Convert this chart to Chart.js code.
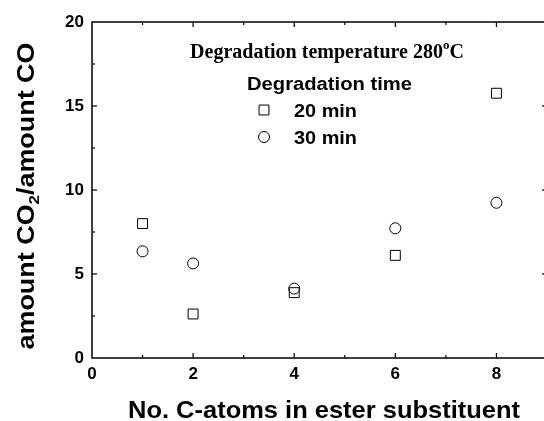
<!DOCTYPE html>
<html>
<head>
<meta charset="utf-8">
<script src="https://cdn.jsdelivr.net/npm/chart.js@4/dist/chart.umd.min.js"></script>
<style>
  html, body { margin: 0; padding: 0; background: #fff; overflow: hidden; }
  #wrap { width: 555px; height: 421px; }
</style>
</head>
<body>
<div id="wrap"><canvas id="chart" width="555" height="421"></canvas></div>
<script>
// data
const cAtoms = [1, 2, 4, 6, 8];
const ratio20min = [8.0, 2.62, 3.89, 6.11, 15.76];
const ratio30min = [6.35, 5.63, 4.13, 7.72, 9.24];
const seriesNames = ['20 min', '30 min'];
const xRange = [0, 9];
const yRange = [0, 20];

const toPoints = (xs, ys) => xs.map((v, i) => ({ x: v, y: ys[i] }));

function line(ctx, x1, y1, x2, y2) {
  ctx.beginPath();
  ctx.moveTo(x1, y1);
  ctx.lineTo(x2, y2);
  ctx.stroke();
}

// draws text pieces in a row, each piece {t, font, dy}
function drawPieces(ctx, pieces, x, y) {
  let cx = x;
  pieces.forEach(p => {
    ctx.font = p.font;
    ctx.fillText(p.t, cx, y + (p.dy || 0));
    cx += ctx.measureText(p.t).width;
  });
}
function piecesWidth(ctx, pieces) {
  return pieces.reduce((w, p) => { ctx.font = p.font; return w + ctx.measureText(p.t).width; }, 0);
}
// the figure's sans text is a wide Helvetica, so stretch Arial to the same width
function fillStretched(ctx, text, font, x, y, width) {
  ctx.font = font;
  const w = ctx.measureText(text).width;
  ctx.save();
  ctx.translate(x, y);
  ctx.scale(width / w, 1);
  ctx.fillText(text, 0, 0);
  ctx.restore();
}

// frame, inward ticks, axis titles and the in-plot legend
const decorations = {
  id: 'decorations',
  afterDraw(chart) {
    const { ctx, chartArea: a, scales: { x, y } } = chart;
    ctx.save();
    ctx.strokeStyle = '#000';
    ctx.fillStyle = '#000';
    ctx.lineWidth = 1.5;
    ctx.strokeRect(a.left, a.top, a.right - a.left, a.bottom - a.top);

    ctx.lineWidth = 1.2;
    for (let v = xRange[0] + 1; v < xRange[1]; v += 1) {
      const px = x.getPixelForValue(v);
      const len = v % 2 === 0 ? 5 : 3;
      line(ctx, px, a.bottom, px, a.bottom - len);
      line(ctx, px, a.top, px, a.top + len);
    }
    for (let v = yRange[0] + 2.5; v < yRange[1]; v += 2.5) {
      const py = y.getPixelForValue(v);
      const len = v % 5 === 0 ? 5 : 3;
      line(ctx, a.left, py, a.left + len, py);
      line(ctx, a.right, py, a.right - len, py);
    }

    // x axis title
    const big = 'bold 24px Arial, "Liberation Sans", sans-serif';
    ctx.textBaseline = 'alphabetic';
    ctx.textAlign = 'left';
    fillStretched(ctx, 'No. C-atoms in ester substituent', big, 128, 418, 392);

    // y axis title with subscript
    const sub = 'bold 15px Arial, "Liberation Sans", sans-serif';
    const yPieces = [
      { t: 'amount CO', font: big },
      { t: '2', font: sub, dy: 5 },
      { t: '/amount CO', font: big }
    ];
    const yw = piecesWidth(ctx, yPieces);
    ctx.save();
    ctx.translate(34, 196);
    ctx.rotate(-Math.PI / 2);
    ctx.scale(307 / yw, 1);
    drawPieces(ctx, yPieces, -yw / 2, 0);
    ctx.restore();

    // legend block
    const serif = 'bold 20px "Liberation Serif", "Times New Roman", serif';
    const serifSup = 'bold 13px "Liberation Serif", "Times New Roman", serif';
    const tPieces = [
      { t: 'Degradation temperature 280', font: serif },
      { t: 'o', font: serifSup, dy: -9 },
      { t: 'C', font: serif }
    ];
    const tw = piecesWidth(ctx, tPieces);
    drawPieces(ctx, tPieces, 327 - tw / 2, 58);

    const legFont = 'bold 18px Arial, "Liberation Sans", sans-serif';
    fillStretched(ctx, 'Degradation time', legFont, 247, 90, 165);
    chart.data.datasets.forEach((ds, i) => {
      const my = 110 + i * 27;
      ctx.lineWidth = ds.borderWidth;
      ctx.fillStyle = 'rgba(0,0,0,0)';
      Chart.helpers.drawPoint(ctx, {
        pointStyle: ds.pointStyle, radius: ds.pointRadius, borderWidth: ds.borderWidth
      }, 264, my);
      ctx.fillStyle = '#000';
      fillStretched(ctx, seriesNames[i], legFont, 294, my + 7, 63);
    });
    ctx.restore();
  }
};

const tickFont = { family: 'Arial, "Liberation Sans", sans-serif', size: 17, weight: 'bold' };

new Chart(document.getElementById('chart'), {
  type: 'scatter',
  data: {
    datasets: [
      {
        label: seriesNames[0],
        data: toPoints(cAtoms, ratio20min),
        pointStyle: 'rect',
        pointRadius: 7,
        borderWidth: 1,
        borderColor: '#000',
        backgroundColor: 'rgba(0,0,0,0)'
      },
      {
        label: seriesNames[1],
        data: toPoints(cAtoms, ratio30min),
        pointStyle: 'circle',
        pointRadius: 5.5,
        borderWidth: 1,
        borderColor: '#000',
        backgroundColor: 'rgba(0,0,0,0)'
      }
    ]
  },
  options: {
    responsive: false,
    animation: false,
    layout: { padding: { left: 0, top: 22, right: 4, bottom: 0 } },
    plugins: { legend: { display: false }, tooltip: { enabled: false } },
    scales: {
      x: {
        type: 'linear',
        min: xRange[0],
        max: xRange[1],
        grid: { display: false, drawTicks: false },
        border: { display: false },
        afterFit: s => { s.height = 63; },
        ticks: {
          stepSize: 2, color: '#000', font: tickFont, padding: 6, maxRotation: 0,
          callback: v => (v < xRange[1] ? v : '')
        }
      },
      y: {
        min: yRange[0],
        max: yRange[1],
        grid: { display: false, drawTicks: false },
        border: { display: false },
        afterFit: s => { s.width = 92; },
        ticks: { stepSize: 5, color: '#000', font: tickFont, padding: 8 }
      }
    }
  },
  plugins: [decorations]
});
</script>
</body>
</html>
